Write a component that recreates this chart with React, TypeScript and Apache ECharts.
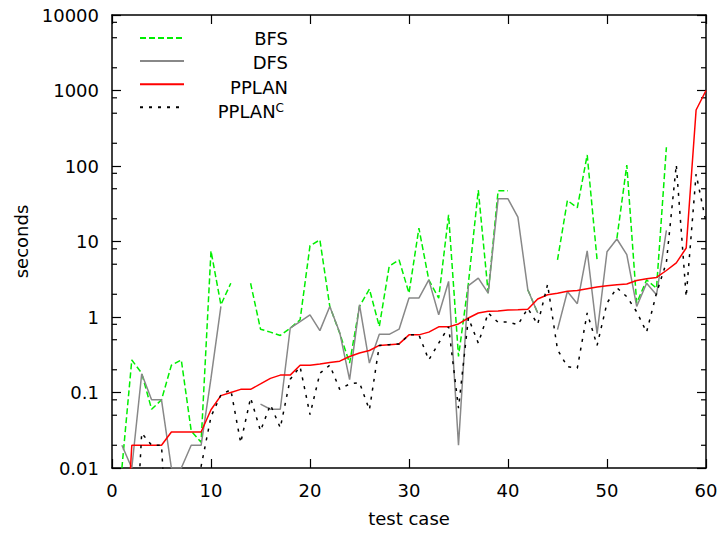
import React, { useEffect, useRef } from "react";
import * as echarts from "echarts";

const FONT = "DejaVu Sans";

const testCases = [
  1, 2, 3, 4, 5, 6, 7, 8, 9, 10, 11, 12, 13, 14, 15, 16, 17, 18, 19, 20,
  21, 22, 23, 24, 25, 26, 27, 28, 29, 30, 31, 32, 33, 34, 35, 36, 37, 38, 39, 40,
  41, 42, 43, 44, 45, 46, 47, 48, 49, 50, 51, 52, 53, 54, 55, 56, 57, 58, 59, 60,
];

const bfs = [
  0.01, 0.27, 0.18, 0.06, 0.08, 0.23, 0.27, 0.031, 0.022, 7.5,
  1.45, 2.8, null, 2.8, 0.69, 0.63, 0.57, 0.71, 0.92, 8.8,
  10.5, 1.38, 0.61, 0.245, 1.38, 2.34, 0.75, 4.7, 5.7, 2.07,
  15, 3.1, 1.78, 22.5, 0.3, 2.8, 48, 2.07, 47, 47,
  null, 2.3, 1.13, null, 5.7, 35, 28, 140, 5.7, null,
  11, 103, 1.53, 3.1, 2.4, 177, null, null, null, null,
];

const dfs = [
  0.02, 0.01, 0.177, 0.08, 0.08, 0.01, 0.01, 0.02, 0.02, 0.155,
  1.38, null, null, null, 0.07, 0.06, 0.06, 0.71, 0.87, 1.07,
  0.66, 1.38, 0.625, 0.148, 1.45, 0.245, 0.59, 0.59, 0.69, 1.78,
  1.78, 3.1, 1.07, 2.96, 0.02, 2.6, 3.28, 2.07, 36.7, 36.7,
  21, 2.3, 1.13, null, 0.68, 2.18, 1.5, 7.5, 0.6, 7.3,
  10.8, 6.7, 1.38, 2.8, 1.97, 14, null, null, null, null,
];

const pplan = [
  0.0001, 0.02, 0.02, 0.02, 0.02, 0.03, 0.03, 0.03, 0.03, 0.059,
  0.091, 0.1, 0.11, 0.11, 0.13, 0.154, 0.17, 0.17, 0.229, 0.229,
  0.238, 0.25, 0.26, 0.3, 0.334, 0.36, 0.42, 0.43, 0.44, 0.58,
  0.58, 0.63, 0.74, 0.74, 0.81, 0.97, 1.13, 1.19, 1.2, 1.24,
  1.25, 1.27, 1.73, 1.97, 2.07, 2.2, 2.24, 2.37, 2.49, 2.59,
  2.67, 2.73, 3.05, 3.2, 3.34, 4.13, 5.2, 8.2, 552, 1000,
];

const pplanC = [
  null, 0.0001, 0.029, 0.02, 0.02, 0.0001, 0.0001, 0.0001, 0.0105, 0.048,
  0.093, 0.109, 0.0215, 0.085, 0.031, 0.069, 0.034, 0.15, 0.22, 0.051,
  0.18, 0.23, 0.11, 0.13, 0.135, 0.059, 0.42, 0.43, 0.44, 0.58,
  0.58, 0.27, 0.45, 0.74, 0.062, 0.97, 0.45, 1.13, 0.85, 0.86,
  0.79, 1.3, 0.8, 2.7, 0.37, 0.22, 0.21, 1.13, 0.42, 1.53,
  2.44, 1.86, 1.17, 0.63, 2.07, 5.3, 104, 1.85, 78, 18,
];

const seriesNames = ["BFS", "DFS", "PPLAN", "PPLANC"];
const legendLabels = ["BFS", "DFS", "PPLAN", "{p|PPLAN}{s|C}"];
const minorMultipliers = [2, 5, 8];
const decades = [0.01, 0.1, 1, 10, 100, 1000];

function pairs(values: (number | null)[]) {
  return testCases.map((x, i) => [x, values[i] === null ? "-" : values[i]]);
}

export default function App() {
  const ref = useRef<HTMLDivElement>(null);

  useEffect(() => {
    if (!ref.current) return;
    const chart = echarts.init(ref.current, undefined, { renderer: "svg" });
    const axisLine = { show: true, onZero: false, lineStyle: { color: "#000", width: 1.5 } };
    const tick = { show: true, inside: true, length: 9, lineStyle: { color: "#000", width: 1.2 } };
    const labelStyle = { color: "#000", fontFamily: FONT, fontSize: 18 };

    const legendTop = 31;
    const legendItemH = 14;
    const legendGap = 10.5;

    chart.setOption({
      animation: false,
      backgroundColor: "#fff",
      grid: { left: 112, right: 15, top: 15, bottom: 65, show: false },
      legend: {
        orient: "vertical",
        left: 139,
        top: legendTop,
        padding: 0,
        itemWidth: 44,
        itemHeight: legendItemH,
        itemGap: legendGap,
        itemStyle: { opacity: 0 },
        data: seriesNames,
        formatter: () => "",
        textStyle: { fontSize: 1 },
      },
      xAxis: [
        {
          type: "value",
          min: 0,
          max: 60,
          interval: 10,
          position: "bottom",
          axisLine,
          axisTick: tick,
          axisLabel: { ...labelStyle, margin: 13 },
          splitLine: { show: false },
          name: "test case",
          nameLocation: "middle",
          nameGap: 41,
          nameTextStyle: labelStyle,
        },
        {
          type: "value",
          min: 0,
          max: 60,
          interval: 10,
          position: "top",
          axisLine,
          axisTick: tick,
          axisLabel: { show: false },
          splitLine: { show: false },
        },
      ],
      yAxis: [
        {
          type: "log",
          logBase: 10,
          min: 0.01,
          max: 10000,
          position: "left",
          axisLine,
          axisTick: tick,
          axisLabel: {
            ...labelStyle,
            margin: 13,
            formatter: (v: number) => String(Number(v.toPrecision(6))),
          },
          splitLine: { show: false },
          name: "seconds",
          nameLocation: "middle",
          nameGap: 79,
          nameRotate: 90,
          nameTextStyle: labelStyle,
        },
        {
          type: "log",
          logBase: 10,
          min: 0.01,
          max: 10000,
          position: "right",
          axisLine,
          axisTick: tick,
          axisLabel: { show: false },
          splitLine: { show: false },
        },
      ],
      series: [
        {
          name: "BFS",
          type: "line",
          data: pairs(bfs),
          symbol: "none",
          connectNulls: false,
          clip: true,
          lineStyle: { color: "#00ee00", width: 1.5, type: [6, 3] },
          itemStyle: { color: "#00ee00" },
        },
        {
          name: "DFS",
          type: "line",
          data: pairs(dfs),
          symbol: "none",
          connectNulls: false,
          clip: true,
          lineStyle: { color: "#888888", width: 1.5, type: "solid" },
          itemStyle: { color: "#888888" },
        },
        {
          name: "PPLAN",
          type: "line",
          data: pairs(pplan),
          symbol: "none",
          connectNulls: false,
          clip: true,
          lineStyle: { color: "#ff0000", width: 1.5, type: "solid" },
          itemStyle: { color: "#ff0000" },
        },
        {
          name: "PPLANC",
          type: "line",
          data: pairs(pplanC),
          symbol: "none",
          connectNulls: false,
          clip: true,
          lineStyle: { color: "#000000", width: 1.5, type: [3, 6] },
          itemStyle: { color: "#000000" },
        },
      ],
    });

    // minor ticks on the log axes (2, 5, 8 of each decade), inside, left and right
    const xl = chart.convertToPixel({ xAxisIndex: 0 }, 0) as number;
    const xr = chart.convertToPixel({ xAxisIndex: 0 }, 60) as number;
    const graphics: any[] = [];
    decades.forEach((d) => {
      minorMultipliers.forEach((m) => {
        const y = chart.convertToPixel({ yAxisIndex: 0 }, m * d) as number;
        graphics.push({
          type: "line",
          shape: { x1: xl, y1: y, x2: xl + 5, y2: y },
          style: { stroke: "#000", lineWidth: 1.2 },
          silent: true,
        });
        graphics.push({
          type: "line",
          shape: { x1: xr - 5, y1: y, x2: xr, y2: y },
          style: { stroke: "#000", lineWidth: 1.2 },
          silent: true,
        });
      });
    });

    // legend labels, right-justified like the original key
    legendLabels.forEach((label, i) => {
      const cy = legendTop + legendItemH / 2 + i * (legendItemH + legendGap);
      const isLast = i === legendLabels.length - 1;
      graphics.push({
        type: "text",
        x: isLast ? 284 : 288,
        y: cy,
        silent: true,
        style: {
          text: label,
          align: "right",
          verticalAlign: "middle",
          fill: "#000",
          fontFamily: FONT,
          fontSize: 18,
          rich: {
            p: { fontFamily: FONT, fontSize: 18, fill: "#000", lineHeight: 20 },
            s: { fontFamily: FONT, fontSize: 12, fill: "#000", lineHeight: 12, verticalAlign: "top" },
          },
        },
      });
    });

    chart.setOption({ graphic: graphics });

    return () => chart.dispose();
  }, []);

  return (
    <div
      ref={ref}
      style={{ position: "absolute", left: 0, top: 0, width: 721, height: 533 }}
    />
  );
}
